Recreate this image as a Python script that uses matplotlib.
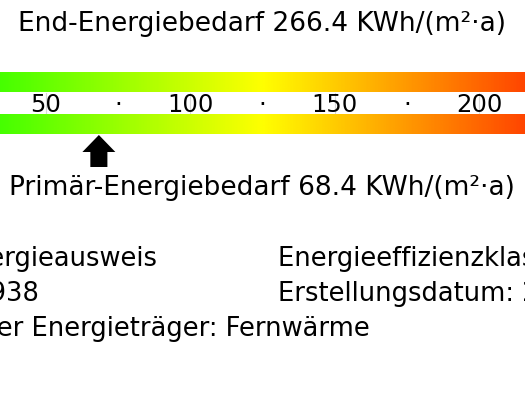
import numpy as np
import matplotlib
matplotlib.use('Agg')
import matplotlib.pyplot as plt
from matplotlib.colors import LinearSegmentedColormap, Normalize
from matplotlib.patches import FancyArrow

# scale data
scale_min, scale_max = 0, 250
scale_colors = ['#00ff00', '#ffff00', '#ff0000']
tick_values = [50, 75, 100, 125, 150, 175, 200]
tick_labels = ['50', '·', '100', '·', '150', '·', '200']
line_values = [50, 100, 150, 200]
view_range = (34.2, 215.8)

end_energy = 266.4
primary_energy = 68.4

left_lines = ['Bedarfsenergieausweis', 'Baujahr: 1938',
              'Wesentlicher Energieträger: Fernwärme']
right_lines = ['Energieeffizienzklasse: B', 'Erstellungsdatum: 2014']

W, H = 525, 394
fig = plt.figure(figsize=(W / 100, H / 100), dpi=100)
ax = fig.add_axes([0, 0, 1, 1])
ax.axis('off')

cmap = LinearSegmentedColormap.from_list('energy', scale_colors)
grad = np.linspace(scale_min, scale_max, 800)[None, :]
norm = Normalize(scale_min, scale_max)
for y0, y1 in [(72, 92), (114, 134)]:
    ax.imshow(grad, cmap=cmap, norm=norm, aspect='auto',
              extent=(scale_min, scale_max, y1, y0), interpolation='bilinear')

for v in line_values:
    ax.plot([v, v], [93, 113], color='#d8d8d8', lw=0.8)

for v, lab in zip(tick_values, tick_labels):
    ax.text(v, 112, lab, ha='center', va='baseline', fontsize=17.5,
            color='black', family='DejaVu Sans')

# arrows: primary below the bar, end energy above the bar
ax.add_patch(FancyArrow(primary_energy, 167, 0, -32, width=5.9,
                        head_width=11.4, head_length=17,
                        length_includes_head=True, color='black', lw=0))
ax.add_patch(FancyArrow(end_energy, 39, 0, 32, width=5.9,
                        head_width=11.4, head_length=17,
                        length_includes_head=True, color='black', lw=0))

ax.set_xlim(*view_range)
ax.set_ylim(H, 0)


def px(x, y):
    return x / W, 1 - y / H


fig.text(*px(262, 31), f'End-Energiebedarf {end_energy} KWh/(m²·a)',
         ha='center', va='baseline', fontsize=19)
fig.text(*px(262, 195), f'Primär-Energiebedarf {primary_energy} KWh/(m²·a)',
         ha='center', va='baseline', fontsize=19)

left_ends = [158, 39, 370]
for i, (t, xe) in enumerate(zip(left_lines, left_ends)):
    fig.text(*px(xe, 266 + 35 * i), t, ha='right', va='baseline', fontsize=18.5)
for i, t in enumerate(right_lines):
    fig.text(*px(278, 266 + 35 * i), t, ha='left', va='baseline', fontsize=18.5)

fig.savefig('out.png', dpi=100)
